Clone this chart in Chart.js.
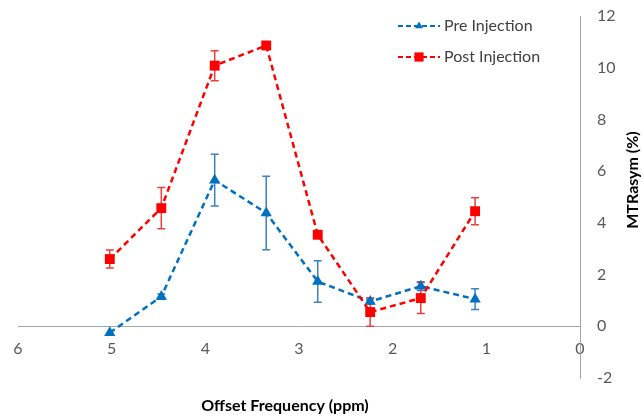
<!DOCTYPE html>
<html>
<head>
<meta charset="utf-8">
<script src="https://cdn.jsdelivr.net/npm/chart.js@4"></script>
<style>
  html, body { margin: 0; padding: 0; background: #fff; }
  #wrap { width: 642px; height: 418px; }
</style>
</head>
<body>
<div id="wrap"><canvas id="chart" width="642" height="418"></canvas></div>
<script>
// 偏移频率 (ppm)
const offsets = [5.02, 4.47, 3.9, 3.35, 2.8, 2.24, 1.7, 1.12];

// Pre Injection
const preValues = [-0.25, 1.15, 5.65, 4.38, 1.73, 0.96, 1.55, 1.05];
const preErrors = [0, 0.1, 1.0, 1.42, 0.8, 0.1, 0.17, 0.4];

// Post Injection
const postValues = [2.6, 4.57, 10.08, 10.86, 3.54, 0.55, 1.09, 4.45];
const postErrors = [0.35, 0.8, 0.58, 0.1, 0.1, 0.55, 0.6, 0.52];

const xTicks = [0, 1, 2, 3, 4, 5, 6];
const yTicks = [-2, 0, 2, 4, 6, 8, 10, 12];

const BLUE = '#0070C0';
const RED = '#FF0000';
const FONT = 'Lato, "Open Sans", sans-serif';

function toPoints(xs, ys) {
  return xs.map((x, i) => ({ x, y: ys[i] }));
}

// 误差线：画在数据点之下
const errorBars = {
  id: 'errorBars',
  beforeDatasetsDraw(chart) {
    const { ctx, scales: { x, y } } = chart;
    const sets = [
      { vals: preValues, errs: preErrors, color: '#3B82BE' },
      { vals: postValues, errs: postErrors, color: '#E8403C' },
    ];
    ctx.save();
    ctx.lineWidth = 1.5;
    sets.forEach((s) => {
      ctx.strokeStyle = s.color;
      offsets.forEach((o, i) => {
        if (!s.errs[i]) return;
        const px = x.getPixelForValue(o);
        const top = y.getPixelForValue(s.vals[i] + s.errs[i]);
        const bot = y.getPixelForValue(s.vals[i] - s.errs[i]);
        ctx.beginPath();
        ctx.moveTo(px, top);
        ctx.lineTo(px, bot);
        ctx.moveTo(px - 4, top);
        ctx.lineTo(px + 4, top);
        ctx.moveTo(px - 4, bot);
        ctx.lineTo(px + 4, bot);
        ctx.stroke();
      });
    });
    ctx.restore();
  },
};

// 图例和坐标轴标题
const decorations = {
  id: 'decorations',
  afterDraw(chart) {
    const { ctx } = chart;
    ctx.save();

    const rows = [
      { label: 'Pre Injection', color: BLUE, style: 'triangle', radius: 4.5, y: 26 },
      { label: 'Post Injection', color: RED, style: 'rect', radius: 6.5, y: 57 },
    ];
    rows.forEach((r) => {
      ctx.strokeStyle = r.color;
      ctx.lineWidth = 2;
      ctx.setLineDash([5, 3]);
      ctx.beginPath();
      ctx.moveTo(398, r.y);
      ctx.lineTo(440, r.y);
      ctx.stroke();
      ctx.setLineDash([]);
      ctx.fillStyle = r.color;
      Chart.helpers.drawPoint(ctx, { pointStyle: r.style, radius: r.radius, borderWidth: 0 }, 419, r.y);
      ctx.fillStyle = '#404040';
      ctx.font = '16px ' + FONT;
      ctx.textAlign = 'left';
      ctx.textBaseline = 'middle';
      ctx.fillText(r.label, 444, r.y);
    });

    ctx.fillStyle = '#000';
    ctx.font = 'bold 16px ' + FONT;
    ctx.textAlign = 'center';
    ctx.textBaseline = 'middle';
    ctx.fillText('Offset Frequency (ppm)', 285, 406);

    ctx.translate(633, 180);
    ctx.rotate(-Math.PI / 2);
    ctx.fillText('MTRasym (%)', 0, 0);
    ctx.restore();
  },
};

new Chart(document.getElementById('chart'), {
  type: 'line',
  data: {
    datasets: [
      {
        label: 'Pre Injection',
        data: toPoints(offsets, preValues),
        borderColor: BLUE,
        backgroundColor: BLUE,
        borderWidth: 2.5,
        borderDash: [6, 4],
        pointStyle: 'triangle',
        pointRadius: 6.5,
        pointBorderWidth: 0,
        order: 1,
      },
      {
        label: 'Post Injection',
        data: toPoints(offsets, postValues),
        borderColor: RED,
        backgroundColor: RED,
        borderWidth: 2.5,
        borderDash: [6, 4],
        pointStyle: 'rect',
        pointRadius: 7,
        pointBorderWidth: 0,
        order: 0,
      },
    ],
  },
  options: {
    responsive: false,
    animation: false,
    layout: { padding: { left: 18, top: 16, bottom: 40, right: 0 } },
    plugins: { legend: { display: false }, tooltip: { enabled: false } },
    scales: {
      x: {
        type: 'linear',
        reverse: true,
        min: 0,
        max: 6,
        position: { y: 0 },
        afterFit: (s) => { s.height = 0; },
        afterBuildTicks: (s) => { s.ticks = xTicks.map((v) => ({ value: v })); },
        grid: { display: false, drawTicks: false },
        border: { display: true, color: '#A6A6A6', width: 1 },
        ticks: { color: '#595959', padding: 13, font: { family: FONT, size: 16 } },
      },
      y: {
        position: 'right',
        min: -2,
        max: 12,
        afterFit: (s) => {
          // 标签的 padding 不应挤压绘图区
          s.width = 62;
          s.paddingTop = 10;
          s.paddingBottom = 10;
        },
        afterBuildTicks: (s) => { s.ticks = yTicks.map((v) => ({ value: v })); },
        grid: { display: false, drawTicks: false },
        border: { display: true, color: '#A6A6A6', width: 1 },
        ticks: { color: '#595959', padding: 17, font: { family: FONT, size: 16 } },
      },
    },
  },
  plugins: [errorBars, decorations],
});
</script>
</body>
</html>
